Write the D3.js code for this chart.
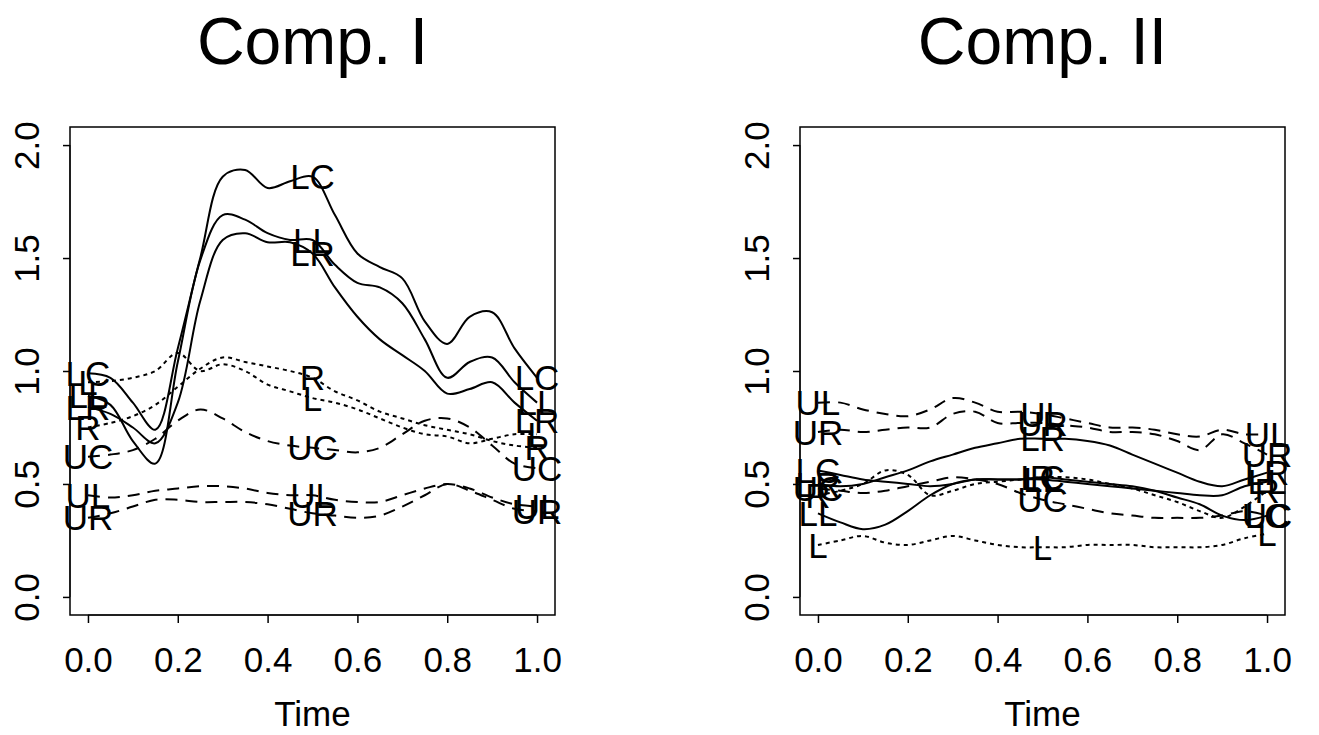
<!DOCTYPE html>
<html>
<head>
<meta charset="utf-8">
<script src="https://cdn.jsdelivr.net/npm/d3@7"></script>
<style>
  body { margin: 0; background: #fff; }
  text { font-family: "Liberation Sans", Arial, Helvetica, sans-serif; fill: #000; }
</style>
</head>
<body>
<svg id="chart"></svg>
<script>
// time grid the curves are read at
const timePoints = [0, 0.05, 0.1, 0.15, 0.2, 0.25, 0.3, 0.35, 0.4, 0.45, 0.5,
                    0.55, 0.6, 0.65, 0.7, 0.75, 0.8, 0.85, 0.9, 0.95, 1];
const xTicks = [0, 0.2, 0.4, 0.6, 0.8, 1];
const yTicks = [0, 0.5, 1, 1.5, 2];
const labelTimes = [0, 0.5, 1];

// Comp. I curves
const c1LC = [0.99, 0.97, 0.86, 0.74, 1.10, 1.50, 1.86, 1.89, 1.81, 1.84, 1.86, 1.69, 1.52, 1.46, 1.41, 1.22, 1.12, 1.24, 1.26, 1.10, 0.97];
const c1LL = [0.89, 0.85, 0.69, 0.59, 1.04, 1.49, 1.69, 1.67, 1.61, 1.58, 1.58, 1.47, 1.39, 1.37, 1.30, 1.14, 0.97, 1.04, 1.06, 0.95, 0.86];
const c1LR = [0.84, 0.81, 0.75, 0.68, 0.86, 1.31, 1.58, 1.61, 1.57, 1.57, 1.52, 1.37, 1.24, 1.14, 1.07, 1.00, 0.90, 0.92, 0.95, 0.86, 0.78];
const c1L  = [0.95, 0.955, 0.97, 1.00, 1.08, 1.00, 1.03, 1.00, 0.94, 0.91, 0.88, 0.86, 0.83, 0.79, 0.75, 0.72, 0.71, 0.68, 0.70, 0.72, 0.72];
const c1R  = [0.75, 0.77, 0.80, 0.85, 0.93, 1.01, 1.06, 1.04, 1.02, 1.00, 0.97, 0.91, 0.87, 0.82, 0.79, 0.76, 0.74, 0.72, 0.69, 0.67, 0.66];
const c1UC = [0.62, 0.63, 0.65, 0.70, 0.78, 0.83, 0.79, 0.73, 0.69, 0.67, 0.66, 0.65, 0.64, 0.66, 0.72, 0.78, 0.79, 0.75, 0.67, 0.59, 0.57];
const c1UL = [0.45, 0.44, 0.45, 0.47, 0.48, 0.49, 0.49, 0.48, 0.46, 0.45, 0.45, 0.43, 0.42, 0.42, 0.45, 0.48, 0.50, 0.48, 0.44, 0.41, 0.40];
const c1UR = [0.35, 0.37, 0.40, 0.43, 0.43, 0.42, 0.42, 0.42, 0.41, 0.39, 0.37, 0.36, 0.35, 0.36, 0.40, 0.45, 0.50, 0.47, 0.43, 0.39, 0.38];

// Comp. II curves
const c2LC = [0.56, 0.54, 0.52, 0.51, 0.50, 0.49, 0.50, 0.52, 0.52, 0.52, 0.53, 0.52, 0.51, 0.50, 0.49, 0.47, 0.44, 0.41, 0.36, 0.34, 0.36];
const c2LL = [0.37, 0.33, 0.30, 0.32, 0.38, 0.45, 0.50, 0.52, 0.52, 0.52, 0.52, 0.51, 0.50, 0.49, 0.48, 0.47, 0.46, 0.45, 0.45, 0.49, 0.51];
const c2LR = [0.50, 0.49, 0.50, 0.53, 0.56, 0.60, 0.63, 0.66, 0.68, 0.70, 0.70, 0.70, 0.69, 0.67, 0.63, 0.59, 0.55, 0.51, 0.49, 0.52, 0.55];
const c2L  = [0.23, 0.25, 0.27, 0.24, 0.23, 0.25, 0.27, 0.25, 0.23, 0.22, 0.22, 0.22, 0.23, 0.23, 0.23, 0.22, 0.22, 0.22, 0.23, 0.26, 0.28];
const c2R  = [0.45, 0.47, 0.50, 0.56, 0.54, 0.45, 0.47, 0.50, 0.51, 0.52, 0.53, 0.53, 0.52, 0.50, 0.48, 0.45, 0.42, 0.38, 0.35, 0.40, 0.47];
const c2UC = [0.48, 0.47, 0.46, 0.47, 0.49, 0.51, 0.53, 0.52, 0.50, 0.46, 0.43, 0.41, 0.39, 0.37, 0.36, 0.35, 0.35, 0.35, 0.36, 0.38, 0.36];
const c2UL = [0.86, 0.86, 0.83, 0.81, 0.80, 0.83, 0.88, 0.86, 0.82, 0.82, 0.81, 0.79, 0.77, 0.75, 0.75, 0.74, 0.72, 0.71, 0.74, 0.72, 0.72];
const c2UR = [0.73, 0.74, 0.73, 0.74, 0.75, 0.75, 0.81, 0.82, 0.77, 0.77, 0.77, 0.76, 0.75, 0.73, 0.73, 0.72, 0.69, 0.65, 0.72, 0.68, 0.63];

const W = 1319, H = 735;
const svg = d3.select("#chart").attr("width", W).attr("height", H);

// line type for each curve name: lower = solid, single = dotted, upper = dashed
function dashFor(name) {
    if (name === "L" || name === "R") return "4,4";
    if (name[0] === "U") return "12,8";
    return null;
}

function drawPanel(title, left, curves) {
    // plot box, R style with 4% padding on both axes
    const box = {x0: left, x1: left + 485, y0: 127, y1: 615};
    const xScale = d3.scaleLinear().domain([-0.04, 1.04]).range([box.x0, box.x1]);
    const yScale = d3.scaleLinear().domain([-0.08, 2.08]).range([box.y1, box.y0]);

    const g = svg.append("g");

    //title
    g.append("text")
        .attr("x", (box.x0 + box.x1) / 2)
        .attr("y", 64)
        .attr("text-anchor", "middle")
        .style("font-size", "66px")
        .text(title);

    //box
    g.append("rect")
        .attr("x", box.x0).attr("y", box.y0)
        .attr("width", box.x1 - box.x0).attr("height", box.y1 - box.y0)
        .attr("fill", "none").attr("stroke", "#000").attr("stroke-width", 1.5);

    //x axis
    const xAxis = g.append("g")
        .attr("transform", "translate(0," + box.y1 + ")")
        .call(d3.axisBottom(xScale).tickValues(xTicks).tickSize(8).tickPadding(24)
            .tickFormat(d3.format(".1f")));
    xAxis.select(".domain").attr("d", "M" + xScale(0) + ",0H" + xScale(1));
    xAxis.selectAll("line").attr("stroke-width", 1.5);
    xAxis.selectAll("text").style("font-size", "35px").attr("dy", "0.71em");

    //y axis, labels parallel to the axis
    const yAxis = g.append("g")
        .attr("transform", "translate(" + box.x0 + ",0)")
        .call(d3.axisLeft(yScale).tickValues(yTicks).tickSize(7).tickFormat(d3.format(".1f")));
    yAxis.select(".domain").attr("d", "M0," + yScale(0) + "V" + yScale(2));
    yAxis.selectAll("line").attr("stroke-width", 1.5);
    yAxis.selectAll("text")
        .style("font-size", "35px")
        .attr("x", null).attr("dy", null)
        .attr("text-anchor", "middle")
        .attr("transform", "translate(-31,0) rotate(-90)");

    //axis title
    g.append("text")
        .attr("x", xScale(0.5))
        .attr("y", 726)
        .attr("text-anchor", "middle")
        .style("font-size", "35px")
        .text("Time");

    const line = d3.line()
        .x((d, i) => xScale(timePoints[i]))
        .y(d => yScale(d))
        .curve(d3.curveCatmullRom.alpha(0.5));

    curves.forEach(c => {
        g.append("path")
            .datum(c.values)
            .attr("fill", "none")
            .attr("stroke", "#000")
            .attr("stroke-width", 2)
            .attr("stroke-dasharray", dashFor(c.name))
            .attr("d", line);
    });

    //curve names at start, middle and end
    curves.forEach(c => {
        labelTimes.forEach(t => {
            const i = timePoints.indexOf(t);
            g.append("text")
                .attr("x", xScale(t))
                .attr("y", yScale(c.values[i]))
                .attr("dy", "0.36em")
                .attr("text-anchor", "middle")
                .style("font-size", "35px")
                .text(c.name);
        });
    });
}

drawPanel("Comp. I", 70, [
    {name: "LC", values: c1LC}, {name: "LL", values: c1LL}, {name: "LR", values: c1LR},
    {name: "L", values: c1L}, {name: "R", values: c1R},
    {name: "UC", values: c1UC}, {name: "UL", values: c1UL}, {name: "UR", values: c1UR}
]);

drawPanel("Comp. II", 800, [
    {name: "LC", values: c2LC}, {name: "LL", values: c2LL}, {name: "LR", values: c2LR},
    {name: "L", values: c2L}, {name: "R", values: c2R},
    {name: "UC", values: c2UC}, {name: "UL", values: c2UL}, {name: "UR", values: c2UR}
]);
</script>
</body>
</html>
